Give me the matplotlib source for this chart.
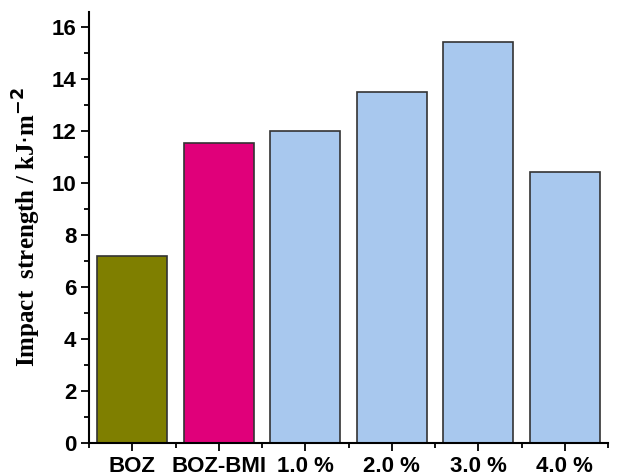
import matplotlib
matplotlib.use("Agg")
import matplotlib.pyplot as plt
from matplotlib.ticker import MultipleLocator

samples = ["BOZ", "BOZ-BMI", "1.0 %", "2.0 %", "3.0 %", "4.0 %"]
impact = [7.2, 11.55, 12.0, 13.5, 15.45, 10.45]
colors = ["#7f7f00", "#e0007a", "#a8c8ee", "#a8c8ee", "#a8c8ee", "#a8c8ee"]

fig = plt.figure(figsize=(6.18, 4.76), dpi=100)
ax = fig.add_axes([0.144, 0.069, 0.84, 0.906])

x = range(len(samples))
ax.bar(x, impact, width=0.81, color=colors, edgecolor="#333333", linewidth=1.2)

ax.set_xlim(-0.5, 5.5)
ax.set_ylim(0, 16.6)
ax.set_xticks(list(x))
ax.set_xticklabels(samples, fontsize=16, fontweight="bold", family="Liberation Sans")
ax.set_xticks([i - 0.5 for i in range(len(samples) + 1)], minor=True)
ax.yaxis.set_major_locator(MultipleLocator(2))
ax.yaxis.set_minor_locator(MultipleLocator(1))
for lab in ax.get_yticklabels():
    lab.set_fontsize(16)
    lab.set_fontweight("bold")
    lab.set_family("Liberation Sans")

ax.tick_params(which="major", direction="out", length=6, width=1.3, pad=3)
ax.tick_params(which="minor", direction="out", length=3.5, width=1.3)

for side in ["top", "right"]:
    ax.spines[side].set_visible(False)
for side in ["left", "bottom"]:
    ax.spines[side].set_linewidth(1.5)

ax.set_ylabel(r"Impact  strength / kJ$\cdot$m$^{\mathbf{-2}}$", fontsize=18,
              fontweight="bold", family="Liberation Serif", labelpad=6)

fig.savefig("out.png", dpi=100)
